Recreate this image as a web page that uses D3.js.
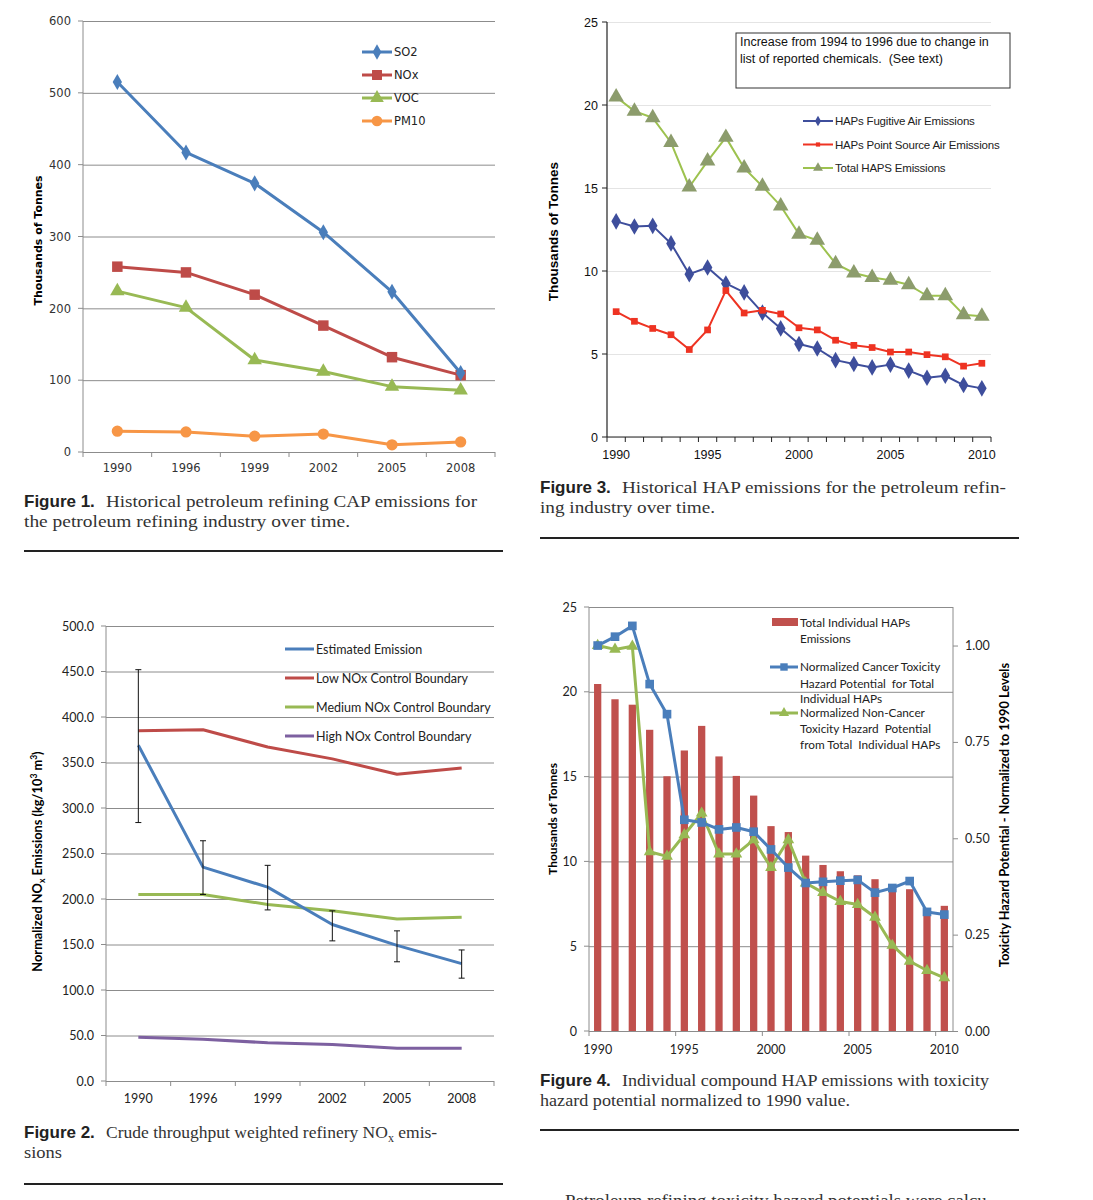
<!DOCTYPE html>
<html><head><meta charset="utf-8">
<script src="https://cdn.jsdelivr.net/npm/d3@7"></script>
<style>body{margin:0;background:#fff}svg{display:block}</style>
</head><body>
<script>
// ---------------- DATA ----------------
const capYears = ["1990","1996","1999","2002","2005","2008"];
const so2  = [515,417,374,306,223,110];
const nox  = [258,250,219,176,132,107];
const voc  = [224,201,128,112,91,86];
const pm10 = [29,28,22,25,10,14];
const fig1YTicks = [0,100,200,300,400,500,600];

const estEmission = [369,235,213,172,149,129];
const estErrLow   = [284,205,188,154,131,113];
const estErrHigh  = [452,264,237,187,165,144];
const lowNox    = [385,386,367,354,337,344];
const mediumNox = [205,205,194,187,178,180];
const highNox   = [48,46,42,40,36,36];
const fig2YTicks = [0,50,100,150,200,250,300,350,400,450,500];

const hapYears = ["1990","1991","1992","1993","1994","1995","1996","1997","1998","1999","2000",
                  "2001","2002","2003","2004","2005","2006","2007","2008","2009","2010"];
const hapYearLabels = ["1990","1995","2000","2005","2010"];
const fugitive    = [12.99,12.68,12.72,11.66,9.81,10.21,9.25,8.71,7.49,6.54,5.60,5.33,4.63,4.40,4.19,4.36,4.00,3.57,3.69,3.13,2.93];
const pointSource = [7.55,6.97,6.54,6.16,5.27,6.45,8.82,7.47,7.63,7.41,6.58,6.45,5.83,5.52,5.39,5.12,5.12,4.96,4.83,4.27,4.44];
const totalHaps   = [20.48,19.63,19.23,17.74,15.06,16.62,18.05,16.20,15.10,13.92,12.22,11.85,10.44,9.88,9.61,9.44,9.17,8.51,8.51,7.37,7.28];
const fig3YTicks = [0,5,10,15,20,25];

const indivHaps  = [20.46,19.56,19.24,17.76,15.02,16.54,17.99,16.19,15.04,13.88,12.08,11.73,10.34,9.79,9.42,9.18,8.95,8.55,8.36,6.9,7.38];
const cancerTox  = [1.000,1.023,1.051,0.900,0.822,0.548,0.541,0.523,0.528,0.517,0.471,0.424,0.384,0.387,0.390,0.392,0.359,0.371,0.389,0.309,0.302];
const nonCancerTox = [1.000,0.990,0.998,0.465,0.453,0.509,0.565,0.459,0.459,0.496,0.424,0.496,0.384,0.359,0.336,0.328,0.295,0.222,0.181,0.157,0.138];
const fig4YTicks = [0,5,10,15,20,25];
const fig4Y2Ticks = [0,0.25,0.5,0.75,1.0];

// ---------------- SETUP ----------------
const svg = d3.select("body").append("svg").attr("width",1093).attr("height",1200);
svg.append("rect").attr("width",1093).attr("height",1200).attr("fill","#fff");

function lineSeries(g, xs, ys, vals, color, width){
  const line = d3.line().x((d,i)=>xs(i)).y(d=>ys(d));
  g.append("path").datum(vals).attr("d",line).attr("fill","none")
    .attr("stroke",color).attr("stroke-width",width).attr("stroke-linejoin","round");
}
function markers(g, xs, ys, vals, type, size, fill){
  g.selectAll(null).data(vals).enter().append("path")
    .attr("d", d3.symbol().type(type).size(size))
    .attr("transform",(d,i)=>`translate(${xs(i)},${ys(d)})`)
    .attr("fill",fill);
}
function styleAxis(sel, font, size, color){
  sel.selectAll("text").attr("font-family",font).attr("font-size",size).attr("fill",color||"#222");
  sel.select(".domain").remove();
}

// ================= FIGURE 1 =================
(function(){
  const L=83,R=495,T=21,B=452;
  const g = svg.append("g");
  const x = d3.scaleBand().domain(capYears).range([L,R]);
  const y = d3.scaleLinear().domain([0,600]).range([B,T]);
  const cx = i => x(capYears[i]) + x.bandwidth()/2;
  const font="DejaVu Sans";
  const gy = g.append("g").attr("transform",`translate(${L},0)`)
    .call(d3.axisLeft(y).tickValues(fig1YTicks).tickSize(-(R-L)).tickPadding(12));
  gy.selectAll("line").attr("stroke","#8c8c8c").attr("stroke-width",1);
  styleAxis(gy,font,11.5,"#333");
  g.append("g").selectAll(null).data(fig1YTicks).enter().append("line")
    .attr("x1",L-5).attr("x2",L).attr("y1",d=>y(d)).attr("y2",d=>y(d)).attr("stroke","#8c8c8c");
  g.append("line").attr("x1",L).attr("x2",L).attr("y1",T).attr("y2",B).attr("stroke","#8c8c8c");
  const gx = g.append("g").attr("transform",`translate(0,${B})`)
    .call(d3.axisBottom(x).tickSize(0).tickPadding(12));
  styleAxis(gx,font,11.5,"#333");
  const bounds = capYears.map(d=>x(d)).concat([R]);
  g.selectAll(null).data(bounds).enter().append("line")
    .attr("x1",d=>d).attr("x2",d=>d).attr("y1",B).attr("y2",B+5).attr("stroke","#8c8c8c");
  const S=[
    {name:"SO2",v:so2,c:"#4A7EBB",t:d3.symbolDiamond,s:75},
    {name:"NOx",v:nox,c:"#BE4B48",t:d3.symbolSquare,s:110},
    {name:"VOC",v:voc,c:"#98B954",t:d3.symbolTriangle,s:90},
    {name:"PM10",v:pm10,c:"#F79646",t:d3.symbolCircle,s:100}];
  S.slice().reverse().forEach(s=>{ lineSeries(g,cx,y,s.v,s.c,3); markers(g,cx,y,s.v,s.t,s.s,s.c); });
  S.forEach((s,i)=>{
    const ly=52+i*23;
    g.append("line").attr("x1",362).attr("x2",392).attr("y1",ly).attr("y2",ly).attr("stroke",s.c).attr("stroke-width",3);
    g.append("path").attr("d",d3.symbol().type(s.t).size(s.s*0.9)).attr("transform",`translate(377,${ly})`).attr("fill",s.c);
    g.append("text").attr("x",394).attr("y",ly+4).text(s.name).attr("font-family",font).attr("font-size",11.5).attr("fill","#222");
  });
  g.append("text").attr("transform",`translate(42,${(T+B)/2+4}) rotate(-90)`).attr("text-anchor","middle")
    .attr("font-family",font).attr("font-weight","bold").attr("font-size",11).text("Thousands of Tonnes");
})();

// ================= FIGURE 3 =================
(function(){
  const L=607,R=991,T=22,B=437;
  const g = svg.append("g");
  const x = d3.scaleBand().domain(hapYears).range([L,R]);
  const y = d3.scaleLinear().domain([0,25]).range([B,T]);
  const cx = i => x(hapYears[i]) + x.bandwidth()/2;
  const font="Liberation Sans";
  const gy = g.append("g").attr("transform",`translate(${L},0)`)
    .call(d3.axisLeft(y).tickValues(fig3YTicks).tickSize(-(R-L)).tickPadding(9));
  gy.selectAll("line").attr("stroke","#e4e4e4");
  styleAxis(gy,font,12.5,"#111");
  g.selectAll(null).data(fig3YTicks).enter().append("line")
    .attr("x1",L-5).attr("x2",L).attr("y1",d=>y(d)).attr("y2",d=>y(d)).attr("stroke","#222");
  g.append("line").attr("x1",L).attr("x2",L).attr("y1",T).attr("y2",B).attr("stroke","#222").attr("stroke-width",1.2);
  g.append("line").attr("x1",L).attr("x2",R).attr("y1",B).attr("y2",B).attr("stroke","#222").attr("stroke-width",1.2);
  const gx = g.append("g").attr("transform",`translate(0,${B})`)
    .call(d3.axisBottom(x).tickValues(hapYearLabels).tickSize(0).tickPadding(13));
  styleAxis(gx,font,12.5,"#111");
  const bounds = hapYears.map(d=>x(d)).concat([R]);
  g.selectAll(null).data(bounds).enter().append("line")
    .attr("x1",d=>d).attr("x2",d=>d).attr("y1",B).attr("y2",B+5).attr("stroke","#222");
  const S=[
    {name:"HAPs Fugitive Air Emissions",v:fugitive,c:"#3E4E9C",m:"#3E4E9C",t:d3.symbolDiamond,s:80},
    {name:"HAPs Point Source Air Emissions",v:pointSource,c:"#EE3322",m:"#EE3322",t:d3.symbolSquare,s:45},
    {name:"Total HAPS Emissions",v:totalHaps,c:"#9DC24F",m:"#8C9C6C",t:d3.symbolTriangle,s:105}];
  S.forEach(s=>{ lineSeries(g,cx,y,s.v,s.c,2); markers(g,cx,y,s.v,s.t,s.s,s.m); });
  S.forEach((s,i)=>{
    const ly=121+i*23.5;
    g.append("line").attr("x1",803).attr("x2",833).attr("y1",ly).attr("y2",ly).attr("stroke",s.c).attr("stroke-width",2);
    g.append("path").attr("d",d3.symbol().type(s.t).size(s.s*0.4)).attr("transform",`translate(818,${ly})`).attr("fill",s.m);
    g.append("text").attr("x",835).attr("y",ly+4).text(s.name).attr("font-family",font).attr("font-size",11.5)
      .attr("letter-spacing",-0.2).attr("fill","#222");
  });
  g.append("rect").attr("x",736).attr("y",33).attr("width",274).attr("height",55)
    .attr("fill","#fff").attr("stroke","#333").attr("stroke-width",1);
  g.append("text").attr("x",740).attr("y",46).attr("font-family",font).attr("font-size",12.5).attr("fill","#111")
    .text("Increase from 1994 to 1996 due to change in");
  g.append("text").attr("x",740).attr("y",63).attr("font-family",font).attr("font-size",12.5).attr("fill","#111")
    .attr("xml:space","preserve").text("list of reported chemicals.  (See text)");
  g.append("text").attr("transform",`translate(558,${(T+B)/2+2}) rotate(-90)`).attr("text-anchor","middle")
    .attr("font-family",font).attr("font-weight","bold").attr("font-size",13.5).text("Thousands of Tonnes");
})();

// ================= FIGURE 2 =================
(function(){
  const L=106,R=494,T=626,B=1081;
  const g = svg.append("g");
  const x = d3.scaleBand().domain(capYears).range([L,R]);
  const y = d3.scaleLinear().domain([0,500]).range([B,T]);
  const cx = i => x(capYears[i]) + x.bandwidth()/2;
  const font="Lato";
  const gy = g.append("g").attr("transform",`translate(${L},0)`)
    .call(d3.axisLeft(y).tickValues(fig2YTicks).tickFormat(d3.format(".1f")).tickSize(-(R-L)).tickPadding(12));
  gy.selectAll("line").attr("stroke","#8c8c8c");
  styleAxis(gy,font,12.5,"#222");
  g.selectAll(null).data(fig2YTicks).enter().append("line")
    .attr("x1",L-5).attr("x2",L).attr("y1",d=>y(d)).attr("y2",d=>y(d)).attr("stroke","#8c8c8c");
  g.append("line").attr("x1",L).attr("x2",L).attr("y1",T).attr("y2",B).attr("stroke","#8c8c8c");
  const gx = g.append("g").attr("transform",`translate(0,${B})`)
    .call(d3.axisBottom(x).tickSize(0).tickPadding(13));
  styleAxis(gx,font,12.5,"#222");
  const bounds = capYears.map(d=>x(d)).concat([R]);
  g.selectAll(null).data(bounds).enter().append("line")
    .attr("x1",d=>d).attr("x2",d=>d).attr("y1",B).attr("y2",B+5).attr("stroke","#8c8c8c");
  const S=[
    {name:"Estimated Emission",v:estEmission,c:"#4A7EBB"},
    {name:"Low NOx Control Boundary",v:lowNox,c:"#BE4B48"},
    {name:"Medium NOx Control Boundary",v:mediumNox,c:"#98B954"},
    {name:"High NOx Control Boundary",v:highNox,c:"#7D60A0"}];
  S.slice().reverse().forEach(s=>lineSeries(g,cx,y,s.v,s.c,3));
  estEmission.forEach((d,i)=>{
    const xx=cx(i);
    g.append("line").attr("x1",xx).attr("x2",xx).attr("y1",y(estErrLow[i])).attr("y2",y(estErrHigh[i])).attr("stroke","#111").attr("stroke-width",1);
    [estErrLow[i],estErrHigh[i]].forEach(v=>g.append("line").attr("x1",xx-3).attr("x2",xx+3).attr("y1",y(v)).attr("y2",y(v)).attr("stroke","#111").attr("stroke-width",1));
  });
  S.forEach((s,i)=>{
    const ly=649+i*29;
    g.append("line").attr("x1",285).attr("x2",314).attr("y1",ly).attr("y2",ly).attr("stroke",s.c).attr("stroke-width",3);
    g.append("text").attr("x",316).attr("y",ly+4.5).text(s.name).attr("font-family",font).attr("font-size",12.5).attr("fill","#222");
  });
  const t = g.append("text").attr("transform",`translate(42,${(T+B)/2+8}) rotate(-90)`).attr("text-anchor","middle")
    .attr("font-family",font).attr("font-weight","bold").attr("font-size",12.8);
  t.append("tspan").text("Normalized NO");
  t.append("tspan").attr("font-size",8.5).attr("dy",3).text("x");
  t.append("tspan").attr("dy",-3).text(" Emissions (kg/10");
  t.append("tspan").attr("font-size",8.5).attr("dy",-5).text("3");
  t.append("tspan").attr("dy",5).text(" m");
  t.append("tspan").attr("font-size",8.5).attr("dy",-5).text("3");
  t.append("tspan").attr("dy",5).text(")");
})();

// ================= FIGURE 4 =================
(function(){
  const L=589,R=953,T=607,B=1031;
  const g = svg.append("g");
  const x = d3.scaleBand().domain(hapYears).range([L,R]);
  const y = d3.scaleLinear().domain([0,25]).range([B,T]);
  const y2 = d3.scaleLinear().domain([0,1.1]).range([B,T]);
  const cx = i => x(hapYears[i]) + x.bandwidth()/2;
  const font="Lato";
  const gy = g.append("g").attr("transform",`translate(${L},0)`)
    .call(d3.axisLeft(y).tickValues(fig4YTicks).tickSize(-(R-L)).tickPadding(12));
  gy.selectAll("line").attr("stroke","#8c8c8c");
  styleAxis(gy,font,12.5,"#222");
  g.selectAll(null).data(fig4YTicks).enter().append("line")
    .attr("x1",L-5).attr("x2",L).attr("y1",d=>y(d)).attr("y2",d=>y(d)).attr("stroke","#8c8c8c");
  g.append("line").attr("x1",L).attr("x2",L).attr("y1",T).attr("y2",B).attr("stroke","#8c8c8c");
  g.append("line").attr("x1",R).attr("x2",R).attr("y1",T).attr("y2",B).attr("stroke","#8c8c8c");
  const gy2 = g.append("g").attr("transform",`translate(${R},0)`)
    .call(d3.axisRight(y2).tickValues(fig4Y2Ticks).tickFormat(d3.format(".2f")).tickSize(5).tickPadding(7));
  gy2.selectAll("line").attr("stroke","#8c8c8c");
  styleAxis(gy2,font,12.5,"#222");
  const gx = g.append("g").attr("transform",`translate(0,${B})`)
    .call(d3.axisBottom(x).tickValues(hapYearLabels).tickSize(0).tickPadding(14));
  styleAxis(gx,font,12.5,"#222");
  g.selectAll(null).data(hapYearLabels).enter().append("line")
    .attr("x1",d=>x(d)).attr("x2",d=>x(d)).attr("y1",B).attr("y2",B+5).attr("stroke","#8c8c8c");
  const bw = x.bandwidth()*0.42;
  g.selectAll(null).data(indivHaps).enter().append("rect")
    .attr("x",(d,i)=>cx(i)-bw/2).attr("width",bw)
    .attr("y",d=>y(d)).attr("height",d=>B-y(d)).attr("fill","#C0504D");
  lineSeries(g,cx,y2,nonCancerTox,"#98B954",3);
  markers(g,cx,y2,nonCancerTox,d3.symbolTriangle,60,"#98B954");
  lineSeries(g,cx,y2,cancerTox,"#4A7EBB",3);
  markers(g,cx,y2,cancerTox,d3.symbolSquare,75,"#4A7EBB");
  const lf = (xx,yy,txt)=>g.append("text").attr("x",xx).attr("y",yy).attr("font-family",font).attr("font-size",11.8).attr("fill","#222").attr("xml:space","preserve").text(txt);
  g.append("rect").attr("x",772).attr("y",618).attr("width",26).attr("height",8).attr("fill","#C0504D");
  lf(800,627,"Total Individual HAPs"); lf(800,643,"Emissions");
  g.append("line").attr("x1",770).attr("x2",798).attr("y1",667).attr("y2",667).attr("stroke","#4A7EBB").attr("stroke-width",3);
  g.append("path").attr("d",d3.symbol().type(d3.symbolSquare).size(55)).attr("transform","translate(784,667)").attr("fill","#4A7EBB");
  lf(800,671,"Normalized Cancer Toxicity"); lf(800,688,"Hazard Potential  for Total"); lf(800,703,"Individual HAPs");
  g.append("line").attr("x1",770).attr("x2",798).attr("y1",713).attr("y2",713).attr("stroke","#98B954").attr("stroke-width",3);
  g.append("path").attr("d",d3.symbol().type(d3.symbolTriangle).size(45)).attr("transform","translate(784,713)").attr("fill","#98B954");
  lf(800,717,"Normalized Non-Cancer"); lf(800,733,"Toxicity Hazard  Potential"); lf(800,749,"from Total  Individual HAPs");
  g.append("text").attr("transform",`translate(557,${(T+B)/2}) rotate(-90)`).attr("text-anchor","middle")
    .attr("font-family",font).attr("font-weight","bold").attr("font-size",12).text("Thousands of Tonnes");
  g.append("text").attr("transform",`translate(1009,${(T+B)/2-4}) rotate(-90)`).attr("text-anchor","middle")
    .attr("font-family",font).attr("font-weight","bold").attr("font-size",12.8).text("Toxicity Hazard Potential - Normalized to 1990 Levels");
})();

// ================= CAPTIONS =================
function caption(x0, y0, label, line1, line2, l1len, l2len, ruleY){
  const g = svg.append("g");
  g.append("text").attr("x",x0).attr("y",y0).attr("font-family","Liberation Sans").attr("font-weight","bold")
    .attr("font-size",17).attr("fill","#222").text(label);
  const t1 = g.append("text").attr("x",x0+82).attr("y",y0).attr("font-family","Liberation Serif").attr("font-size",17.5).attr("fill","#333");
  line1(t1);
  if(l1len) t1.attr("textLength",l1len).attr("lengthAdjust","spacingAndGlyphs");
  const t2 = g.append("text").attr("x",x0).attr("y",y0+20).attr("font-family","Liberation Serif").attr("font-size",17.5).attr("fill","#333").text(line2);
  if(l2len) t2.attr("textLength",l2len).attr("lengthAdjust","spacingAndGlyphs");
  g.append("line").attr("x1",x0).attr("x2",x0+479).attr("y1",ruleY).attr("y2",ruleY).attr("stroke","#222").attr("stroke-width",2);
}
caption(24,507,"Figure 1.",t=>t.text("Historical petroleum refining CAP emissions for"),"the petroleum refining industry over time.",371,326,551);
caption(540,493,"Figure 3.",t=>t.text("Historical HAP emissions for the petroleum refin-"),"ing industry over time.",384,175,538);
caption(24,1138,"Figure 2.",t=>{t.append("tspan").text("Crude throughput weighted refinery NO");
  t.append("tspan").attr("font-size",12).attr("dy",4).text("x");
  t.append("tspan").attr("dy",-4).text(" emis-");},"sions",null,38,1184);
caption(540,1086,"Figure 4.",t=>t.text("Individual compound HAP emissions with toxicity"),"hazard potential normalized to 1990 value.",367,310,1130);
svg.append("text").attr("x",565).attr("y",1206).attr("font-family","Liberation Serif").attr("font-size",17.5).attr("fill","#333")
  .attr("textLength",428).attr("lengthAdjust","spacingAndGlyphs").text("Petroleum refining toxicity hazard potentials were calcu-");
</script>
</body></html>
